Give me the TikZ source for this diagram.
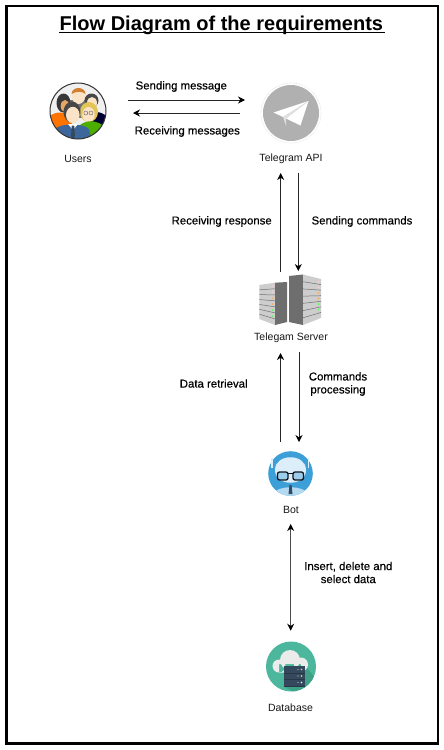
\documentclass[tikz,border=0pt]{standalone}
\usepackage{fontspec}
\setmainfont{Liberation Sans}
\newfontfamily\medfont[FakeBold=0.35]{Liberation Sans}
\usetikzlibrary{arrows.meta}
\definecolor{tgrey}{HTML}{B0B0B0}
\definecolor{tblue}{HTML}{3C9FD8}
\definecolor{tpale}{HTML}{DCEEF9}
\definecolor{tteal}{HTML}{4CB79C}
\definecolor{tshadow}{HTML}{3FA287}
\definecolor{tdark}{HTML}{34495E}
\definecolor{srvfront}{HTML}{CDCDCD}
\definecolor{srvside}{HTML}{6E6E6E}
\definecolor{skin}{HTML}{FBE3C8}
\tikzset{
  lab/.style={font=\fontsize{10.5}{12}\selectfont,text=black!90,align=center,inner sep=0pt},
  blab/.style={font=\medfont\fontsize{11.4}{13}\selectfont,text=black,align=center,inner sep=0pt},
  conn/.style={draw=black!85,line width=0.8pt,-{Stealth[length=7pt,width=7pt,color=black]}},
  conn2/.style={draw=black!70,line width=0.9pt,{Stealth[length=7pt,width=7pt,color=black]}-{Stealth[length=7pt,width=7pt,color=black]}},
  icon/.style={circle,minimum size=#1,inner sep=0pt,outer sep=0pt},
  slat/.style={draw=srvside,line width=0.5pt}
}
\begin{document}
\begin{tikzpicture}[x=1pt,y=-1pt]
\useasboundingbox (0,0) rectangle (444,750);
\fill[white] (0,0) rectangle (444,750);
\node[draw=black,line width=2.6pt,minimum width=431.5pt,minimum height=737.5pt,inner sep=0pt] (frame) at (222.25,374.75) {};
\node[inner sep=0pt,font=\bfseries\fontsize{20}{24}\selectfont,anchor=base west] (title) at (59.5,30.5) {Flow Diagram of the requirements\ };
\coordinate (ulA) at (59,32.2); \coordinate (ulB) at (385,32.2);
\draw[black,line width=1.2pt] (ulA) -- (ulB);

% Users
\node[icon=56pt,fill=black!6] (users) at (78,111) {};
\begin{scope}
\clip (78,111) circle (28);
% back man
\fill[black!55] (70,100) rectangle (88,118);
\fill[skin] (78.5,96) ellipse (6.8 and 8);
\fill[brown!70!orange] (71.5,94) .. controls (72,86) and (85,86) .. (85.5,94) .. controls (82,91) and (76,91) .. (71.5,94) -- cycle;
% left woman
\fill[black!78] (63.5,103) ellipse (7 and 9.5);
\fill[brown!55!orange!70!white] (65,106) ellipse (4.3 and 6);
\fill[orange!90!red] (44,140) -- (50,116) .. controls (56,111) and (66,111) .. (72,118) -- (72,140) -- cycle;
% right man
\fill[black!72] (91.5,100.5) ellipse (7 and 7);
\fill[skin] (92,103) ellipse (5 and 6);
\fill[black!80!blue] (88,140) -- (88,116) .. controls (95,109) and (104,112) .. (110,120) -- (110,140) -- cycle;
% glasses woman
\fill[yellow!45!brown!85!white] (89,112) ellipse (9 and 10);
\fill[skin] (88.5,114.5) ellipse (6.2 and 7.5);
\fill[green!55!black!70!yellow] (76,142) -- (78,127) .. controls (85,119) and (98,119) .. (107,129) -- (107,142) -- cycle;
\draw[black!60,line width=0.45pt] (85.8,113) circle (2) (91,113) circle (2);
% front man
\fill[black!72] (72,112) ellipse (8.5 and 10.5);
\fill[skin] (72.8,115) ellipse (6.8 and 8.2);
\fill[cyan!50!blue!72!black] (50,142) -- (55,129) .. controls (60,123) and (84,123) .. (89,129) -- (92,142) -- cycle;
\fill[white] (68,124) -- (78,124) -- (73,130) -- cycle;
\fill[tdark] (71.8,125.5) -- (74.2,125.5) -- (75,136) -- (73,139) -- (71,136) -- cycle;
\end{scope}
\draw[black!80,line width=1pt] (78,111) circle (28);
\node[lab] (userslab) at (78,158.5) {Users};

% Telegram
\draw[black!12,line width=0.7pt,densely dotted,fill=white] (291,113) circle (30);
\node[icon=56pt,fill=tgrey] (tg) at (291,113) {};
\fill[white] (308.5,101) -- (273.5,112.5) -- (283,117) -- cycle;
\fill[white] (308.5,101) -- (286,118.5) -- (300.5,125.5) -- cycle;
\fill[black!12] (283,117) -- (308.5,101) -- (286,118.5) -- (286,126) -- cycle;
\node[lab] (tglab) at (291,158.5) {Telegram API};

% Server
\node[inner sep=0pt,minimum width=62pt,minimum height=52pt] (server) at (290,300) {};
\fill[srvfront] (259.3,285) -- (275,282.7) -- (275,325) -- (259.3,319) -- cycle;
\fill[srvside] (275,282.7) -- (287,282) -- (287,322) -- (275,325) -- cycle;
\fill[srvside] (289,276) -- (303,274.5) -- (303,325) -- (289,322) -- cycle;
\fill[srvfront] (303,274.5) -- (321,279) -- (321,318) -- (303,325) -- cycle;
\foreach \i/\c in {1/pink,2/pink,3/orange,4/orange,5/green,6/green}{
  \pgfmathsetmacro{\la}{285+\i*34/7}
  \pgfmathsetmacro{\lb}{282.7+\i*42.3/7}
  \pgfmathsetmacro{\ra}{274.5+\i*50.5/7}
  \pgfmathsetmacro{\rb}{279+\i*39/7}
  \draw[slat] (259.3,\la) -- (275,\lb);
  \draw[slat] (303,\ra) -- (321,\rb);
  \fill[\c!70!white] (272.6,{\lb-2.8}) circle (0.8);
  \fill[\c!70!white] (318.6,{\rb-2.8}) circle (0.9);
}
\node[lab] (srvlab) at (291,338) {Telegam Server};

% Bot
\node[icon=44.6pt,fill=tblue] (bot) at (290.5,473.5) {};
\begin{scope}
\clip (290.5,473.5) circle (22.3);
\fill[tpale!75!tblue] (270.5,497) .. controls (274.5,484) and (306.5,484) .. (310.5,497) -- cycle;
\end{scope}
\fill[tpale] (275,470) .. controls (275,453) and (306,453) .. (306,470) .. controls (306,487) and (275,487) .. (275,470) -- cycle;
\draw[tpale,line width=1.2pt] (272,468) -- (272,458) (308.5,468) -- (308.5,458);
\draw[black!70!tdark,line width=1.3pt,rounded corners=2pt,fill=tpale!60!tblue] (277.5,472) rectangle (288,480);
\draw[black!70!tdark,line width=1.3pt,rounded corners=2pt,fill=tpale!60!tblue] (293,472) rectangle (303.5,480);
\draw[black!70!tdark,line width=1.3pt] (288,473.5) -- (293,473.5);
\fill[tdark] (289.5,485) -- (291.5,485) -- (292.5,494) -- (288.5,494) -- cycle;
\node[lab] (botlab) at (291,509.5) {Bot};

% Database
\node[icon=50pt,fill=tteal] (db) at (291,666.5) {};
\begin{scope}
\clip (291,666.5) circle (25);
\fill[tshadow] (305,665.5) -- (325,690) -- (310,700) -- (283.5,686.5) -- cycle;
\end{scope}
\fill[black!8] (279,666) circle (6.5) (290,660) circle (10) (301,664.5) circle (7) (279,664) rectangle (301,672.5);
\fill[tdark] (283.5,665.5) rectangle (305,686.5);
\foreach \y/\c in {669.5/pink,676/yellow,682.5/white}{
  \draw[black!25!tdark,line width=0.4pt] (283.5,{\y+3.2}) -- (305,{\y+3.2});
  \fill[\c] (301.5,\y) circle (0.9);
  \fill[white!70!tdark] (298,\y) circle (0.7);
}
\node[lab] (dblab) at (290.5,707.5) {Database};

% Connector ends
\coordinate (a1) at (128,100); \coordinate (a2) at (245,100);
\coordinate (b1) at (240,113); \coordinate (b2) at (133,113);
\coordinate (c1) at (280.7,271.5); \coordinate (c2) at (280.7,173);
\coordinate (d1) at (298.3,172.5); \coordinate (d2) at (298.3,271);
\coordinate (e1) at (280.5,441.5); \coordinate (e2) at (280.5,353);
\coordinate (f1) at (299,352); \coordinate (f2) at (299,442);
\coordinate (g1) at (290.7,524); \coordinate (g2) at (290.7,630.7);
\draw[conn] (a1) -- (a2);
\draw[conn] (b1) -- (b2);
\draw[conn] (c1) -- (c2);
\draw[conn] (d1) -- (d2);
\draw[conn] (e1) -- (e2);
\draw[conn] (f1) -- (f2);
\draw[conn2] (g1) -- (g2);

\node[blab] (l1) at (181.3,86.5) {Sending message};
\node[blab] (l2) at (187.3,131.5) {Receiving messages};
\node[blab] (l3) at (221.7,221.5) {Receiving response};
\node[blab] (l4) at (362,221.5) {Sending commands};
\node[blab] (l5) at (213.7,383.5) {Data retrieval};
\node[blab] (l6) at (338,384) {Commands\\processing};
\node[blab] (l7) at (348.3,572.5) {Insert, delete and\\select data};
\end{tikzpicture}
\end{document}
